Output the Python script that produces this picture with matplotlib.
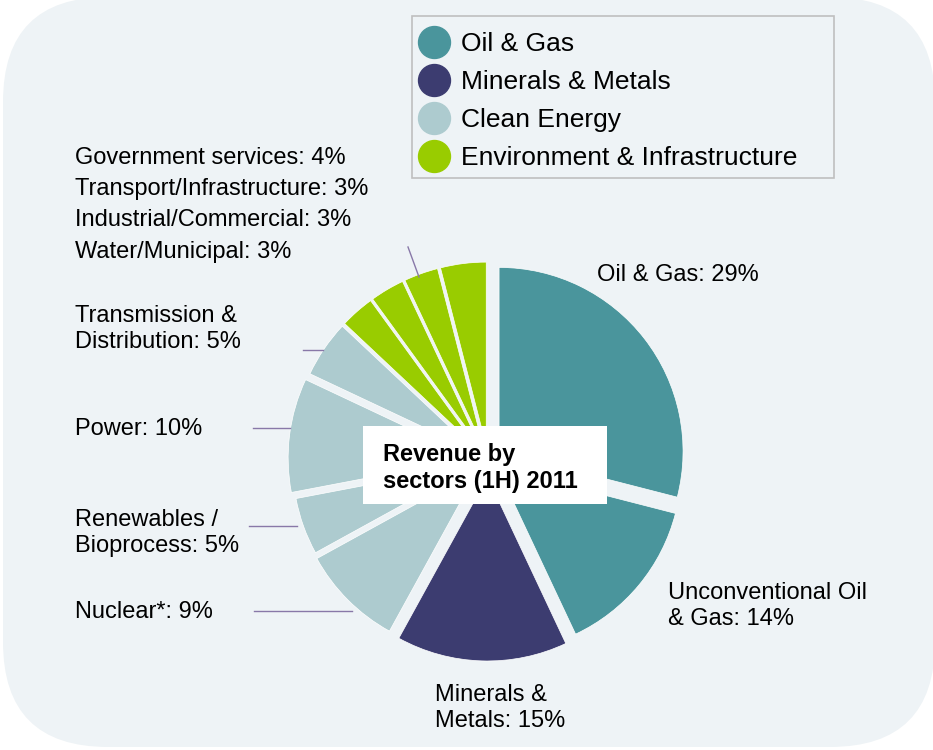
import matplotlib
matplotlib.use("Agg")
import matplotlib.pyplot as plt
from matplotlib.patches import FancyBboxPatch, Rectangle
from matplotlib.lines import Line2D

plt.rcParams['font.family'] = ['Liberation Sans', 'DejaVu Sans']

# ---- data ----
sectors = ["Oil & Gas", "Unconventional Oil\n& Gas", "Minerals &\nMetals",
           "Nuclear*", "Renewables /\nBioprocess", "Power",
           "Transmission &\nDistribution", "Water/Municipal",
           "Industrial/Commercial", "Transport/Infrastructure",
           "Government services"]
shares = [29, 14, 15, 9, 5, 10, 5, 3, 3, 3, 4]
sector_group = [0, 0, 1, 2, 2, 2, 2, 3, 3, 3, 3]

group_names = ["Oil & Gas", "Minerals & Metals", "Clean Energy",
               "Environment & Infrastructure"]
group_colors = ["#4A959C", "#3C3C70", "#ADCBCF", "#99CC00"]

title = "Revenue by\nsectors (1H) 2011"

# ---- layout (pixel coords, y measured from top) ----
W, H = 933, 750
def iy(y):
    return H - y

bg_col = "#EEF3F6"
line_col = "#8878A8"

# explode distance of every slice, in pixels
explode = [14, 12, 17, 14, 12, 16, 14, 14, 14, 14, 14]

# label anchor (left edge, vertical centre)
label_xy = [(597, 275), (668, 606), (435, 708),
            (75, 612), (75, 533), (75, 429), (75, 329),
            (75, 252), (75, 220), (75, 189), (75, 158)]
# leader lines
leaders = [((254, 611), (352, 611)),
           ((249, 526), (297, 526)),
           ((253, 428), (290, 428)),
           ((303, 350), (323, 350)),
           ((408, 247), (419, 277))]

fig = plt.figure(figsize=(9.33, 7.5), dpi=100)
ax = fig.add_axes([0, 0, 1, 1])

# rounded background panel
bg = FancyBboxPatch((3, 3), 932, 750, boxstyle="round,pad=0,rounding_size=105",
                    facecolor=bg_col, edgecolor="none", zorder=0)
ax.add_patch(bg)

colors = [group_colors[g] for g in sector_group]
wedges, _ = ax.pie(shares, colors=colors, explode=explode, startangle=90,
                   counterclock=False, radius=184, center=(488, iy(460)),
                   wedgeprops=dict(edgecolor="white", linewidth=0.5))
for w in wedges:
    w.set_zorder(2)

ax.set_xlim(0, W)
ax.set_ylim(0, H)
ax.set_aspect("equal")
ax.axis("off")

# slice labels
for name, val, (x, y) in zip(sectors, shares, label_xy):
    ax.text(x, iy(y), f"{name}: {val}%", fontsize=17, ha="left", va="center",
            color="black", zorder=4)

for (x0, y0), (x1, y1) in leaders:
    ax.plot([x0, x1], [iy(y0), iy(y1)], color=line_col, lw=1, zorder=3)

# centre title box
ax.add_patch(Rectangle((363, iy(504)), 244, 78, facecolor="white",
                       edgecolor="none", zorder=5))
ax.text(383, iy(468), title, fontsize=17, fontweight="bold", ha="left",
        va="center", zorder=6, linespacing=1.2)

# legend
ax.add_patch(Rectangle((412, iy(178)), 422, 162, facecolor="none",
                       edgecolor="#BFBFBF", lw=1.2, zorder=3))
handles = [Line2D([], [], marker="o", linestyle="", markersize=23,
                  markerfacecolor=c, markeredgecolor=c) for c in group_colors]
ax.legend(handles, group_names, loc="upper left",
          bbox_to_anchor=(421 / W, 1 - 32 / H), bbox_transform=fig.transFigure,
          frameon=False, fontsize=19, borderpad=0, borderaxespad=0,
          handlelength=1.0, handletextpad=0.5, labelspacing=0.53)

fig.savefig("out.png", dpi=100)
